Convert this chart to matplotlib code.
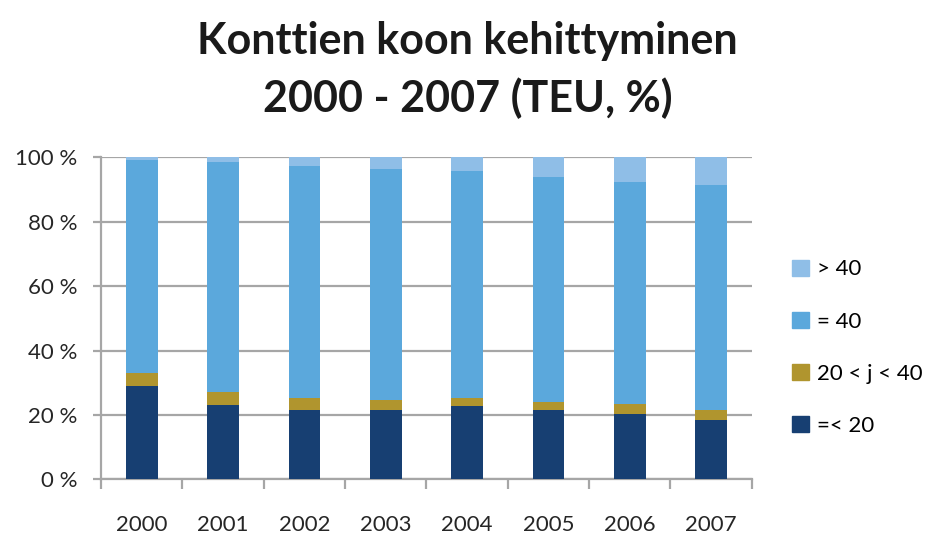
import numpy as np
import matplotlib
matplotlib.use("Agg")
import matplotlib.pyplot as plt
from matplotlib.patches import Patch

# Data (%)
years = ["2000", "2001", "2002", "2003", "2004", "2005", "2006", "2007"]
le20 = [29.1, 23.2, 21.5, 21.4, 22.8, 21.5, 20.3, 18.3]
mid = [3.8, 3.9, 3.8, 3.2, 2.5, 2.5, 3.0, 3.2]
eq40 = [66.3, 71.3, 72.1, 71.8, 70.4, 70.0, 69.1, 69.9]
gt40 = [0.8, 1.6, 2.6, 3.6, 4.3, 6.0, 7.6, 8.6]

series = [("=< 20", le20, "#173f72"),
          ("20 < j < 40", mid, "#b0952e"),
          ("= 40", eq40, "#5ba8dc"),
          ("> 40", gt40, "#8fbee7")]

plt.rcParams['font.family'] = ['Lato', 'DejaVu Sans']

fig = plt.figure(figsize=(9.31, 5.35), dpi=100)
ax = fig.add_axes([0.1085, 0.104, 0.699, 0.602])

x = np.arange(len(years))
bottom = np.zeros(len(years))
for label, vals, color in series:
    ax.bar(x, vals, 0.39, bottom=bottom, color=color, zorder=3)
    bottom += np.array(vals)

ax.set_xlim(-0.5, len(years) - 0.5)
ax.set_ylim(0, 100)
ax.set_yticks(range(0, 101, 20))
ax.set_yticklabels([f"{v} %" for v in range(0, 101, 20)], fontsize=16, color="#262626")
ax.yaxis.grid(True, color="#a6a6a6", linewidth=1.6, zorder=0)

# year labels centred, tick marks at category edges
ax.set_xticks(x)
ax.set_xticklabels(years, fontsize=16, color="#262626")
ax.tick_params(axis="x", length=0, pad=26)
ax.set_xticks(np.arange(-0.5, len(years)), minor=True)
ax.tick_params(axis="x", which="minor", length=7, color="#a6a6a6", width=1.6)
ax.tick_params(axis="y", length=6, color="#a6a6a6", width=1.6, pad=11)

for s in ["top", "right"]:
    ax.spines[s].set_visible(False)
for s in ["left", "bottom"]:
    ax.spines[s].set_color("#a6a6a6")
    ax.spines[s].set_linewidth(1.6)

fig.text(0.502, 0.923, "Konttien koon kehittyminen", ha="center", va="center",
         fontsize=31, fontweight="bold", color="#1a1a1a")
fig.text(0.502, 0.817, "2000 - 2007 (TEU, %)", ha="center", va="center",
         fontsize=31, fontweight="bold", color="#1a1a1a")

handles = [Patch(color=c, label=l) for l, _, c in series[::-1]]
fig.legend(handles=handles, loc="center left", bbox_to_anchor=(0.851, 0.35),
           frameon=False, fontsize=16, labelspacing=1.45, handlelength=0.75,
           handleheight=0.75, handletextpad=0.35, borderpad=0, borderaxespad=0)

fig.savefig("out.png", dpi=100)
